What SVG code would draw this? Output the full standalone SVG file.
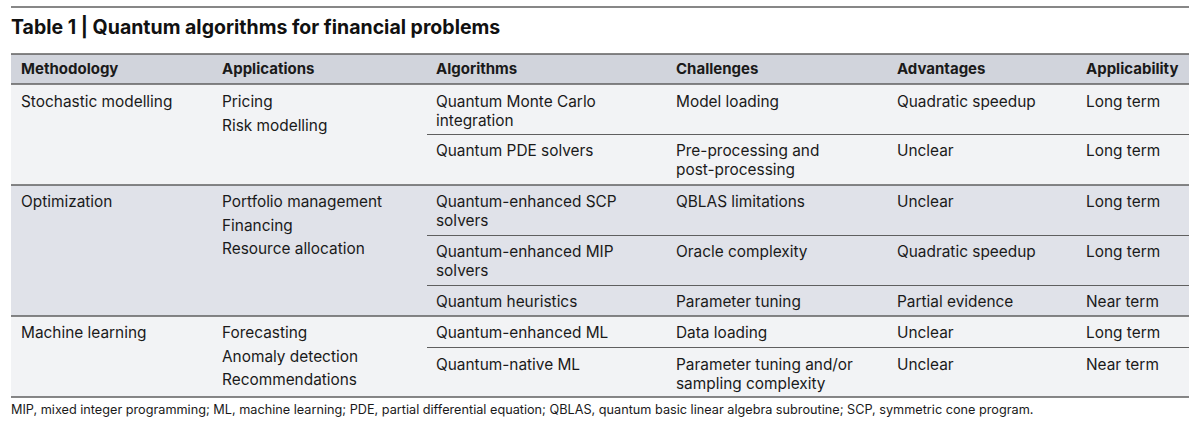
<svg xmlns="http://www.w3.org/2000/svg" width="1200" height="428" viewBox="0 0 1200 428">
<style>
.t{font-family:Inter,"Noto Sans","Liberation Sans",sans-serif;font-size:15.4px;fill:#1a1a1a}
.h{font-family:Inter,"Noto Sans","Liberation Sans",sans-serif;font-size:15px;font-weight:700;fill:#1a1a1a}
.title{font-family:Inter,"Noto Sans","Liberation Sans",sans-serif;font-size:19.5px;font-weight:700;fill:#111}
.foot{font-family:Inter,"Noto Sans","Liberation Sans",sans-serif;font-size:12.7px;fill:#1a1a1a}
.g{stroke:#5f5f5f;stroke-width:1.6}
.i{stroke:#5f5f5f;stroke-width:1}
</style>
<rect width="1200" height="428" fill="#ffffff"/>
<line class="g" x1="11" y1="7" x2="1189" y2="7"/>
<text class="title" x="11" y="34">Table 1 | Quantum algorithms for financial problems</text>
<g id="header">
<rect x="11" y="54" width="1178" height="30" fill="#d1d4dc"/>
<text class="h" x="21" y="74">Methodology</text>
<text class="h" x="222" y="74">Applications</text>
<text class="h" x="436" y="74">Algorithms</text>
<text class="h" x="676" y="74">Challenges</text>
<text class="h" x="897" y="74">Advantages</text>
<text class="h" x="1086" y="74">Applicability</text>
</g>
<g id="stochastic">
<rect x="11" y="84" width="1178" height="101" fill="#f2f3f5"/>
<text class="t" x="21" y="107">Stochastic modelling</text>
<text class="t" x="222" y="107">Pricing</text>
<text class="t" x="222" y="131">Risk modelling</text>
<text class="t" x="436" y="107">Quantum Monte Carlo</text>
<text class="t" x="436" y="126">integration</text>
<text class="t" x="676" y="107">Model loading</text>
<text class="t" x="897" y="107">Quadratic speedup</text>
<text class="t" x="1086" y="107">Long term</text>
<text class="t" x="436" y="156">Quantum PDE solvers</text>
<text class="t" x="676" y="156">Pre-processing and</text>
<text class="t" x="676" y="175">post-processing</text>
<text class="t" x="897" y="156">Unclear</text>
<text class="t" x="1086" y="156">Long term</text>
</g>
<g id="optimization">
<rect x="11" y="185" width="1178" height="131" fill="#e0e2e9"/>
<text class="t" x="21" y="207">Optimization</text>
<text class="t" x="222" y="207">Portfolio management</text>
<text class="t" x="222" y="231">Financing</text>
<text class="t" x="222" y="254">Resource allocation</text>
<text class="t" x="436" y="207">Quantum-enhanced SCP</text>
<text class="t" x="436" y="226">solvers</text>
<text class="t" x="676" y="207">QBLAS limitations</text>
<text class="t" x="897" y="207">Unclear</text>
<text class="t" x="1086" y="207">Long term</text>
<text class="t" x="436" y="257">Quantum-enhanced MIP</text>
<text class="t" x="436" y="276">solvers</text>
<text class="t" x="676" y="257">Oracle complexity</text>
<text class="t" x="897" y="257">Quadratic speedup</text>
<text class="t" x="1086" y="257">Long term</text>
<text class="t" x="436" y="307">Quantum heuristics</text>
<text class="t" x="676" y="307">Parameter tuning</text>
<text class="t" x="897" y="307">Partial evidence</text>
<text class="t" x="1086" y="307">Near term</text>
</g>
<g id="machine-learning">
<rect x="11" y="316" width="1178" height="81" fill="#f2f3f5"/>
<text class="t" x="21" y="338">Machine learning</text>
<text class="t" x="222" y="338">Forecasting</text>
<text class="t" x="222" y="362">Anomaly detection</text>
<text class="t" x="222" y="385">Recommendations</text>
<text class="t" x="436" y="338">Quantum-enhanced ML</text>
<text class="t" x="676" y="338">Data loading</text>
<text class="t" x="897" y="338">Unclear</text>
<text class="t" x="1086" y="338">Long term</text>
<text class="t" x="436" y="370">Quantum-native ML</text>
<text class="t" x="676" y="370">Parameter tuning and/or</text>
<text class="t" x="676" y="389">sampling complexity</text>
<text class="t" x="897" y="370">Unclear</text>
<text class="t" x="1086" y="370">Near term</text>
</g>
<g id="rules">
<line class="g" x1="11" y1="54" x2="1189" y2="54"/>
<line class="g" x1="11" y1="84" x2="1189" y2="84"/>
<line class="g" x1="11" y1="185" x2="1189" y2="185"/>
<line class="g" x1="11" y1="316" x2="1189" y2="316"/>
<line class="g" x1="11" y1="397" x2="1189" y2="397"/>
<line class="i" x1="427" y1="134.5" x2="1189" y2="134.5"/>
<line class="i" x1="427" y1="235.5" x2="1189" y2="235.5"/>
<line class="i" x1="427" y1="285.5" x2="1189" y2="285.5"/>
<line class="i" x1="427" y1="347.5" x2="1189" y2="347.5"/>
</g>
<text class="foot" x="11" y="414">MIP, mixed integer programming; ML, machine learning; PDE, partial differential equation; QBLAS, quantum basic linear algebra subroutine; SCP, symmetric cone program.</text>
</svg>
